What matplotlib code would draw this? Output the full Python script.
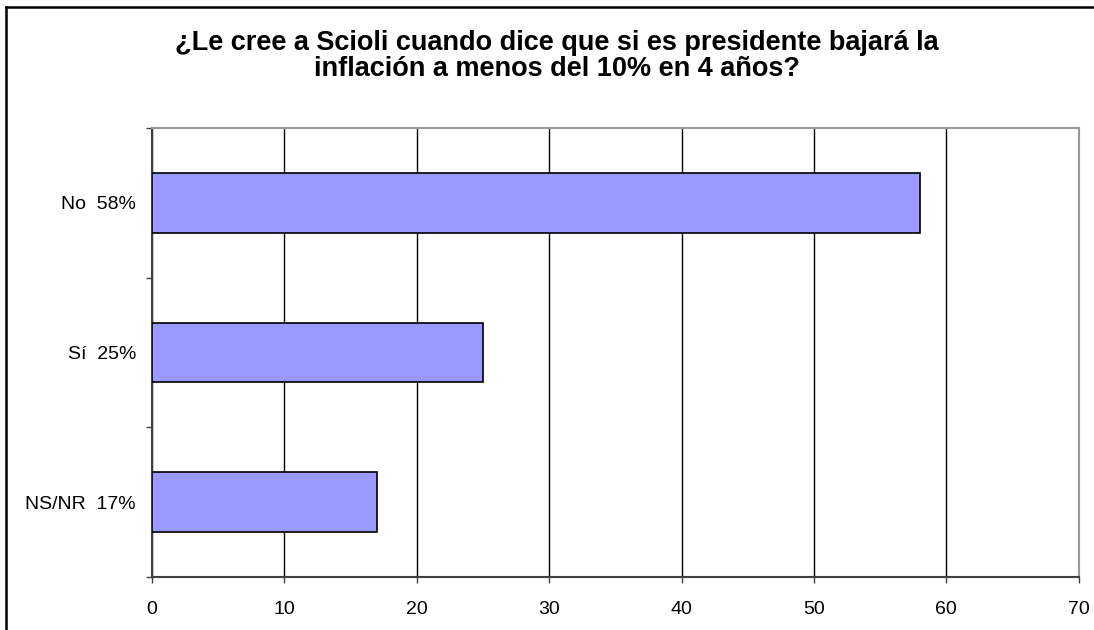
import matplotlib.pyplot as plt
from matplotlib.lines import Line2D

# datos
categorias = ["NS/NR  17%", "Sí  25%", "No  58%"]
valores = [17, 25, 58]
xticks = [0, 10, 20, 30, 40, 50, 60, 70]

titulo = "¿Le cree a Scioli cuando dice que si es presidente bajará la\ninflación a menos del 10% en 4 años?"

plt.rcParams['font.family'] = ['Liberation Sans', 'DejaVu Sans']

fig = plt.figure(figsize=(10.94, 6.30), dpi=100)
ax = fig.add_axes([0.139, 0.0841, 0.847, 0.7127])

pos = list(range(len(categorias)))
ax.barh(pos, valores, height=0.4, color="#9999FF", edgecolor="black", linewidth=1.2, zorder=3)

ax.set_xlim(0, 70)
ax.set_ylim(-0.5, len(categorias) - 0.5)
ax.set_xticks(xticks)
ax.set_xticklabels([str(t) for t in xticks], fontsize=14)
ax.set_yticks(pos)
ax.set_yticklabels(categorias, fontsize=14)
ax.set_yticks([-0.5, 0.5, 1.5, 2.5], minor=True)

# rejilla vertical
ax.grid(True, axis="x", color="black", linewidth=1, zorder=1)
ax.tick_params(axis="y", which="major", length=0, pad=11.5)
ax.tick_params(axis="y", which="minor", length=4.5, width=1, color="#404040")
ax.tick_params(axis="x", length=4.5, width=1, color="#404040", pad=13)

for s in ["top", "right"]:
    ax.spines[s].set_color("#999999")
    ax.spines[s].set_linewidth(1.5)
for s in ["left", "bottom"]:
    ax.spines[s].set_color("#404040")
    ax.spines[s].set_linewidth(1.5)
ax.set_axisbelow(True)

fig.text(0.509, 0.953, titulo, ha="center", va="top", fontsize=19.5,
         fontweight="bold", linespacing=1.02)

# marco del gráfico
fig.add_artist(Line2D([0.0055, 0.0055], [0, 0.989], color="black", linewidth=1.8,
                      transform=fig.transFigure))
fig.add_artist(Line2D([0.0055, 1], [0.989, 0.989], color="black", linewidth=1.8,
                      transform=fig.transFigure))

fig.savefig("out.png", dpi=100)
